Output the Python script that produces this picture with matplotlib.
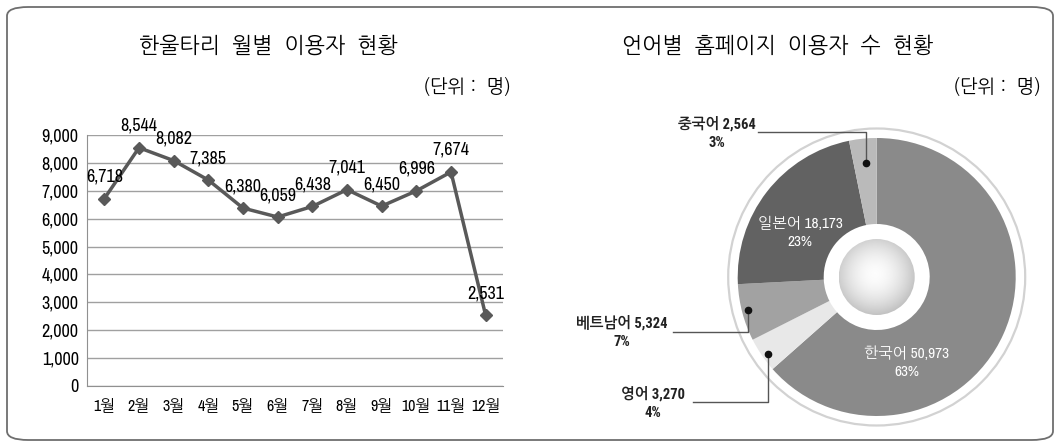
import numpy as np
import matplotlib as mpl
mpl.use('Agg')
import matplotlib.pyplot as plt
from matplotlib.patches import FancyBboxPatch, Circle

plt.rcParams['font.family'] = ['NanumGothic', 'Noto Sans CJK JP', 'DejaVu Sans']
NARROW = ['Archivo Narrow', 'NanumGothic', 'DejaVu Sans']

# monthly users
months = ['1월', '2월', '3월', '4월', '5월', '6월', '7월', '8월', '9월', '10월', '11월', '12월']
users = [6718, 8544, 8082, 7385, 6380, 6059, 6438, 7041, 6450, 6996, 7674, 2531]
yticks = [0, 1000, 2000, 3000, 4000, 5000, 6000, 7000, 8000, 9000]

# users by language (clockwise from top)
langs = ['한국어', '영어', '베트남어', '일본어', '중국어']
lang_users = [50973, 3270, 5324, 18173, 2564]
lang_pct = ['63%', '4%', '7%', '23%', '3%']
lang_colors = ['#8a8a8a', '#e8e8e8', '#a2a2a2', '#626262', '#bababa']

W, H = 1060, 445
fig = plt.figure(figsize=(W / 100, H / 100), dpi=100)

# outer frame
frame = FancyBboxPatch((7 / W, 5 / H), 1046 / W, 433 / H,
                       boxstyle='round,pad=0,rounding_size=0.02',
                       transform=fig.transFigure, fill=False,
                       edgecolor='#6e6e6e', linewidth=1.3)
fig.patches.append(frame)

# ---------- left: line chart ----------
fig.text(268 / W, 1 - 45 / H, '한울타리  월별  이용자  현황', ha='center', va='center', fontsize=15.5)
fig.text(511 / W, 1 - 86 / H, '(단위 :  명)', ha='right', va='center', fontsize=13.5)

ax = fig.add_axes([87 / W, 1 - 386 / H, 416 / W, 251 / H])
x = np.arange(len(months))
ax.plot(x, users, color='#595959', lw=2.5, marker='D', ms=6.5, zorder=3)
for xi, v in zip(x, users):
    ax.annotate(f'{v:,}', (xi, v), xytext=(0, 22), textcoords='offset pixels',
                ha='center', va='center', fontsize=13, family=NARROW)
ax.set_xlim(-0.5, len(months) - 0.5)
ax.set_ylim(0, 9000)
ax.set_yticks(yticks)
ax.set_yticklabels([f'{t:,}' for t in yticks], family=NARROW, fontsize=13)
ax.set_xticks(x)
ax.set_xticklabels(months, family=NARROW, fontsize=11.5)
ax.tick_params(length=0, pad=6)
ax.tick_params(axis='x', pad=9)
ax.grid(axis='y', color='#a0a0a0', lw=1)
ax.set_axisbelow(True)
for s in ['top', 'right']:
    ax.spines[s].set_visible(False)
ax.spines['left'].set_color('#909090')
ax.spines['bottom'].set_color('#909090')

# ---------- right: donut ----------
fig.text(778 / W, 1 - 45 / H, '언어별  홈페이지  이용자  수  현황', ha='center', va='center', fontsize=15.5)
fig.text(1041 / W, 1 - 86 / H, '(단위 :  명)', ha='right', va='center', fontsize=13.5)

ax2 = fig.add_axes([540 / W, 0, 520 / W, 1])
cx, cy = 876.7, H - 277
ax2.add_patch(Circle((cx, cy), 148.5, fill=False, edgecolor='#d2d2d2', lw=1.6))
ax2.pie(lang_users, colors=lang_colors, startangle=90, counterclock=False,
        radius=139, center=(cx, cy), frame=True,
        wedgeprops=dict(width=139 - 53, linewidth=0))
ax2.set_xlim(540, 1060)
ax2.set_ylim(0, H)
ax2.set_aspect('equal')
ax2.axis('off')

# inner shaded sphere
n = 200
yy, xx = np.mgrid[-1:1:n * 1j, -1:1:n * 1j]
rr = np.sqrt((xx + 0.05) ** 2 + (yy - 0.08) ** 2)
img = np.clip(0.99 - 0.2 * rr ** 1.8, 0, 1)
r_in = 38
im = ax2.imshow(img, cmap='gray', vmin=0, vmax=1, origin='lower',
                extent=(cx - r_in, cx + r_in, cy - r_in, cy + r_in), zorder=4)
im.set_clip_path(Circle((cx, cy), r_in, transform=ax2.transData))

# inside labels
ax2.text(800, H - 233, f'{langs[3]} {lang_users[3]:,}\n{lang_pct[3]}', ha='center', va='center',
         color='white', fontsize=11, linespacing=1.35, family=NARROW)
ax2.text(907, H - 363, f'{langs[0]} {lang_users[0]:,}\n{lang_pct[0]}', ha='center', va='center',
         color='white', fontsize=11, linespacing=1.35, family=NARROW)

# callouts: (label index, label center, line start, elbow, dot)
callouts = [
    (4, (717, 133), (758, 132), (866, 132), (866, 163)),
    (2, (622, 332), (673, 332), (748, 332), (748, 310)),
    (1, (653, 403), (693, 402), (768, 402), (768, 354)),
]
for i, (tx, ty), (sx, sy), (ex, ey), (dx, dy) in callouts:
    ax2.text(tx, H - ty, f'{langs[i]} {lang_users[i]:,}\n{lang_pct[i]}', ha='center', va='center',
             fontsize=10.5, fontweight='bold', linespacing=1.4, color='#222222',
             family=['Roboto Condensed', 'NanumGothic'])
    ax2.plot([sx, ex, dx], [H - sy, H - ey, H - dy], color='#555555', lw=1)
    ax2.plot(dx, H - dy, 'o', color='#111111', ms=4.5, zorder=5)

plt.savefig('out.png', dpi=100)
